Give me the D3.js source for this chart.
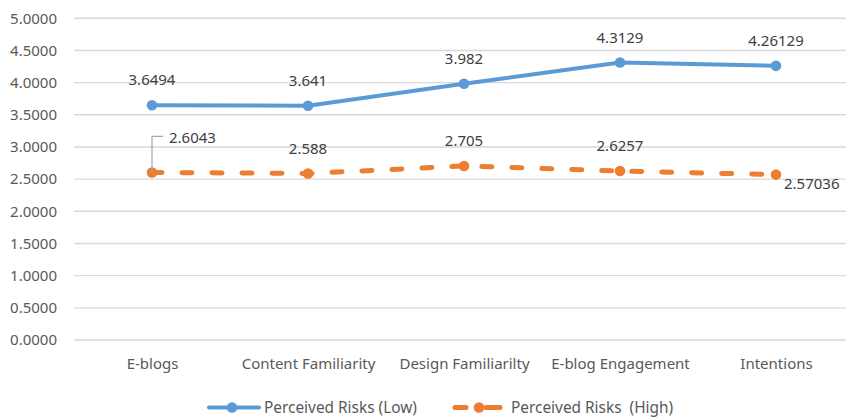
<!DOCTYPE html>
<html>
<head>
<meta charset="utf-8">
<script src="https://cdn.jsdelivr.net/npm/d3@7"></script>
<style>
  body { margin: 0; background: #fff; }
  svg text { font-family: "Noto Sans", sans-serif; }
</style>
</head>
<body>
<div id="chart"></div>
<script>
// data
const categories = ["E-blogs", "Content Familiarity", "Design Familiarilty", "E-blog Engagement", "Intentions"];
const riskLow = [3.6494, 3.641, 3.982, 4.3129, 4.26129];
const riskHigh = [2.6043, 2.588, 2.705, 2.6257, 2.57036];
const yTicks = [0, 0.5, 1, 1.5, 2, 2.5, 3, 3.5, 4, 4.5, 5];
const lowLabels = ["3.6494", "3.641", "3.982", "4.3129", "4.26129"];
const highLabels = ["2.6043", "2.588", "2.705", "2.6257", "2.57036"];

const width = 846, height = 419;
const blue = "#5b9bd5", orange = "#ed7d31";
const textColor = "#595959", labelColor = "#404040";

const svg = d3.select("#chart").append("svg")
  .attr("width", width)
  .attr("height", height);

// plot area runs a bit past the right edge (cropped in the original)
const x = d3.scalePoint().domain(categories).range([74, 854]).padding(0.5);
const y = d3.scaleLinear().domain([0, 5]).range([340, 18.3]);

// gridlines
svg.append("g")
  .selectAll("line")
  .data(yTicks)
  .join("line")
  .attr("x1", 74).attr("x2", 854)
  .attr("y1", d => y(d)).attr("y2", d => y(d))
  .attr("stroke", "#d9d9d9")
  .attr("stroke-width", 1.4);

// y axis labels
const yAxis = d3.axisLeft(y).tickValues(yTicks).tickFormat(d3.format(".4f")).tickSize(0).tickPadding(0);
const gy = svg.append("g").attr("transform", "translate(57,0)").call(yAxis);
gy.select(".domain").remove();
gy.selectAll("text")
  .attr("fill", textColor)
  .style("font-size", "15px");

// x axis labels
const xAxis = d3.axisBottom(x).tickSize(0).tickPadding(0);
const gx = svg.append("g").attr("transform", "translate(0,358.5)").call(xAxis);
gx.select(".domain").remove();
gx.selectAll("text")
  .attr("fill", textColor)
  .attr("dy", "0.71em")
  .style("font-size", "15px");

const line = d3.line()
  .x((d, i) => x(categories[i]))
  .y(d => y(d));

// low series
svg.append("path")
  .datum(riskLow)
  .attr("d", line)
  .attr("fill", "none")
  .attr("stroke", blue)
  .attr("stroke-width", 4)
  .attr("stroke-linejoin", "round");

svg.append("g")
  .selectAll("circle")
  .data(riskLow)
  .join("circle")
  .attr("cx", (d, i) => x(categories[i]))
  .attr("cy", d => y(d))
  .attr("r", 5.3)
  .attr("fill", blue);

// high series (dashed)
svg.append("path")
  .datum(riskHigh)
  .attr("d", line)
  .attr("fill", "none")
  .attr("stroke", orange)
  .attr("stroke-width", 5)
  .attr("stroke-linecap", "round")
  .attr("stroke-dasharray", "10,20");

svg.append("g")
  .selectAll("circle")
  .data(riskHigh)
  .join("circle")
  .attr("cx", (d, i) => x(categories[i]))
  .attr("cy", d => y(d))
  .attr("r", 5.3)
  .attr("fill", orange);

// data labels
svg.append("g")
  .selectAll("text")
  .data(riskLow)
  .join("text")
  .attr("x", (d, i) => x(categories[i]))
  .attr("y", d => y(d) - 25)
  .attr("dy", "0.35em")
  .attr("text-anchor", "middle")
  .attr("fill", labelColor)
  .style("font-size", "15px")
  .text((d, i) => lowLabels[i]);

const hl = svg.append("g");
riskHigh.forEach((d, i) => {
  const px = x(categories[i]), py = y(d);
  let tx = px, ty = py - 25, anchor = "middle";
  if (i === 0) {
    // moved label with leader line
    tx = px + 17; ty = py - 35; anchor = "start";
    hl.append("path")
      .attr("d", `M${px},${py} V${py - 36} H${px + 11}`)
      .attr("fill", "none")
      .attr("stroke", "#a6a6a6")
      .attr("stroke-width", 1.2);
  } else if (i === 4) {
    tx = px + 8; ty = py + 9; anchor = "start";
  }
  hl.append("text")
    .attr("x", tx)
    .attr("y", ty)
    .attr("dy", "0.35em")
    .attr("text-anchor", anchor)
    .attr("fill", labelColor)
    .style("font-size", "15px")
    .text(highLabels[i]);
});

// legend
const lg = svg.append("g");
const ly = 407.5;
lg.append("line")
  .attr("x1", 209).attr("x2", 259).attr("y1", ly).attr("y2", ly)
  .attr("stroke", blue).attr("stroke-width", 4).attr("stroke-linecap", "round");
lg.append("circle").attr("cx", 232).attr("cy", ly).attr("r", 5.3).attr("fill", blue);
lg.append("text")
  .attr("x", 264).attr("y", ly).attr("dy", "0.35em")
  .attr("fill", textColor).style("font-size", "15.4px")
  .text("Perceived Risks (Low)");

lg.append("line")
  .attr("x1", 455).attr("x2", 466).attr("y1", ly).attr("y2", ly)
  .attr("stroke", orange).attr("stroke-width", 5).attr("stroke-linecap", "round");
lg.append("line")
  .attr("x1", 486).attr("x2", 500).attr("y1", ly).attr("y2", ly)
  .attr("stroke", orange).attr("stroke-width", 5).attr("stroke-linecap", "round");
lg.append("circle").attr("cx", 479).attr("cy", ly).attr("r", 5.3).attr("fill", orange);
lg.append("text")
  .attr("x", 511).attr("y", ly).attr("dy", "0.35em")
  .attr("fill", textColor).style("font-size", "15.4px")
  .style("white-space", "pre")
  .text("Perceived Risks  (High)");
</script>
</body>
</html>
